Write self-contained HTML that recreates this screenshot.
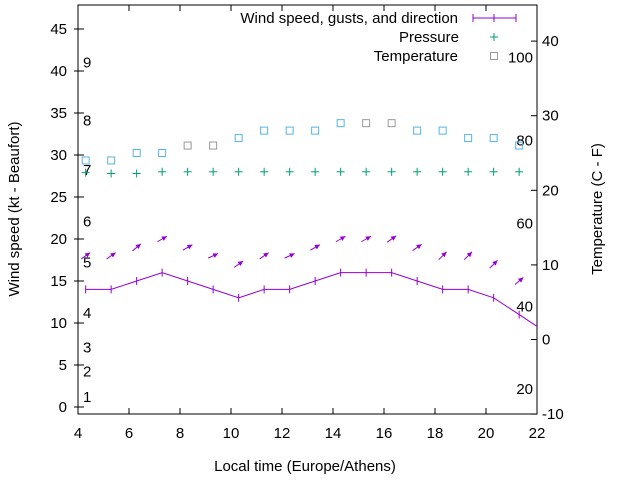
<!DOCTYPE html>
<html><head><meta charset="utf-8">
<style>
body{margin:0;background:#fff;}
svg{display:block;font-family:"Liberation Sans",sans-serif;}
</style></head>
<body>
<svg id="c" width="640" height="480" viewBox="0 0 640 480">
</svg>
<script>
const hours=[4.3,5.3,6.3,7.3,8.3,9.3,10.3,11.3,12.3,13.3,14.3,15.3,16.3,17.3,18.3,19.3,20.3,21.3,22.3];
const windSpeed=[14,14,15,16,15,14,13,14,14,15,16,16,16,15,14,14,13,11,9];
const gusts=[18,18,19,20,19,18,17,18,18,19,20,20,20,19,18,18,17,15];
const windAngle=[35,35,40,30,30,25,35,35,25,30,30,30,35,35,45,45,45,40];
const pressure=[27.9,27.8,27.8,28,28,28,28,28,28,28,28,28,28,28,28,28,28,28];
const tempC=[24,24,25,25,26,26,27,28,28,28,29,29,29,28,28,27,27,26];
const tempGray=[0,0,0,0,1,1,0,0,0,0,0,1,1,0,0,0,0,0];
const xTicks=[4,6,8,10,12,14,16,18,20,22];
const yTicks=[0,5,10,15,20,25,30,35,40,45];
const y2Ticks=[-10,0,10,20,30,40];
const beaufortLabels=["1","2","3","4","5","6","7","8","9"];
const beaufortVals=[1.2,4.2,7.1,11.2,17.2,22.1,28.2,34.1,41];
const fLabels=[20,40,60,80,100];

const L=78,R=537,T=5,B=414;
const X=h=>L+(h-4)*(R-L)/18;
const Y=v=>407-v*8.4;
const Y2=t=>339.5-t*7.46;
const svg=document.getElementById('c');
const NS='http://www.w3.org/2000/svg';
function mk(tag,attrs,parent){const e=document.createElementNS(NS,tag);for(const k in attrs)e.setAttribute(k,attrs[k]);(parent||svg).appendChild(e);return e;}
function txt(s,x,y,anchor,parent){const t=mk('text',{x:x,y:y,'font-size':'15','text-anchor':anchor||'middle',fill:'#000'},parent);t.textContent=s;return t;}

const defs=mk('defs',{});const cp=mk('clipPath',{id:'pc'},defs);mk('rect',{x:L,y:T,width:R-L,height:B-T},cp);

const box=mk('rect',{x:L,y:T,width:R-L,height:B-T,fill:'none',stroke:'#000','stroke-width':1});


xTicks.forEach(h=>{
 const g=mk('g',{});
 
 
 mk('line',{x1:X(h),x2:X(h),y1:B,y2:B-6,stroke:'#000'},g);
 mk('line',{x1:X(h),x2:X(h),y1:T,y2:T+6,stroke:'#000'},g);
 txt(String(h),X(h),B+24,'middle',g);
});
yTicks.forEach(v=>{
 const g=mk('g',{});
 
 
 mk('line',{x1:L,x2:L+6,y1:Y(v),y2:Y(v),stroke:'#000'},g);
 mk('line',{x1:L-4,x2:L,y1:Y(v),y2:Y(v),stroke:'#000'},g);
 txt(String(v),67,Y(v)+5,'end',g);
});
y2Ticks.forEach(t=>{
 const g=mk('g',{});
 
 
 mk('line',{x1:R-6,x2:R,y1:Y2(t),y2:Y2(t),stroke:'#000'},g);
 txt(String(t),542,Y2(t)+5,'start',g);
});
beaufortLabels.forEach((s,i)=>{
 const t=txt(s,83,Y(beaufortVals[i])+5,'start');
 
 
});
fLabels.forEach(f=>{
 const t=txt(String(f),533,Y2((f-32)*5/9)+5,'end');
 
 
});

let t=txt('Local time (Europe/Athens)',305,471);

t=txt('Wind speed (kt - Beaufort)',0,0);t.setAttribute('transform','translate(19,209) rotate(-90)');

t=txt('Temperature (C - F)',0,0);t.setAttribute('transform','translate(602,209) rotate(-90)');


const plot=mk('g',{'clip-path':'url(#pc)'});
const pts=hours.map((h,i)=>X(h)+','+Y(windSpeed[i])).join(' ');
const wl=mk('polyline',{points:pts,fill:'none',stroke:'#9400d3','stroke-width':1},plot);

hours.forEach((h,i)=>{
 const m=mk('line',{x1:X(h),x2:X(h),y1:Y(windSpeed[i])-4,y2:Y(windSpeed[i])+4,stroke:'#9400d3'},plot);
 
});
gusts.forEach((g,i)=>{
 const cx=X(hours[i]),cy=Y(g),a=windAngle[i]*Math.PI/180,len=11;
 const ca=Math.cos(a),sa=Math.sin(a);
 const x0=cx-len/2*ca,y0=cy+len/2*sa,x=cx+len/2*ca,y=cy-len/2*sa;
 const gr=mk('g',{},plot);
 
 
 mk('line',{x1:x0,y1:y0,x2:x,y2:y,stroke:'#9400d3'},gr);
 const hx=x-5*ca,hy=y+5*sa,px=2.5*sa,py=2.5*ca;
 mk('polygon',{points:`${x},${y} ${hx+px},${hy+py} ${hx-px},${hy-py}`,fill:'#9400d3'},gr);
});
pressure.forEach((p,i)=>{
 const x=X(hours[i]),y=Y(p);
 const gr=mk('g',{stroke:'#009e73'},plot);
 
 
 mk('line',{x1:x-4,x2:x+4,y1:y,y2:y},gr);mk('line',{x1:x,x2:x,y1:y-4,y2:y+4},gr);
});
tempC.forEach((c,i)=>{
 const r=mk('rect',{x:X(hours[i])-3.5,y:Y2(c)-3.5,width:7,height:7,fill:'none',stroke:tempGray[i]?'#999':'#56b4e9'},plot);
 
});

const lg=mk('g',{});

txt('Wind speed, gusts, and direction',458,23,'end',lg);
mk('line',{x1:473,x2:516,y1:18,y2:18,stroke:'#9400d3'},lg);
mk('line',{x1:473,x2:473,y1:14,y2:22,stroke:'#9400d3'},lg);
mk('line',{x1:494,x2:494,y1:14,y2:22,stroke:'#9400d3'},lg);
mk('line',{x1:516,x2:516,y1:14,y2:22,stroke:'#9400d3'},lg);
txt('Pressure',459,42,'end',lg);
mk('line',{x1:490,x2:498,y1:37,y2:37,stroke:'#009e73'},lg);
mk('line',{x1:494,x2:494,y1:33,y2:41,stroke:'#009e73'},lg);
txt('Temperature',458,61,'end',lg);
mk('rect',{x:490.5,y:52.5,width:7,height:7,fill:'none',stroke:'#999'},lg);
</script>
</body></html>
